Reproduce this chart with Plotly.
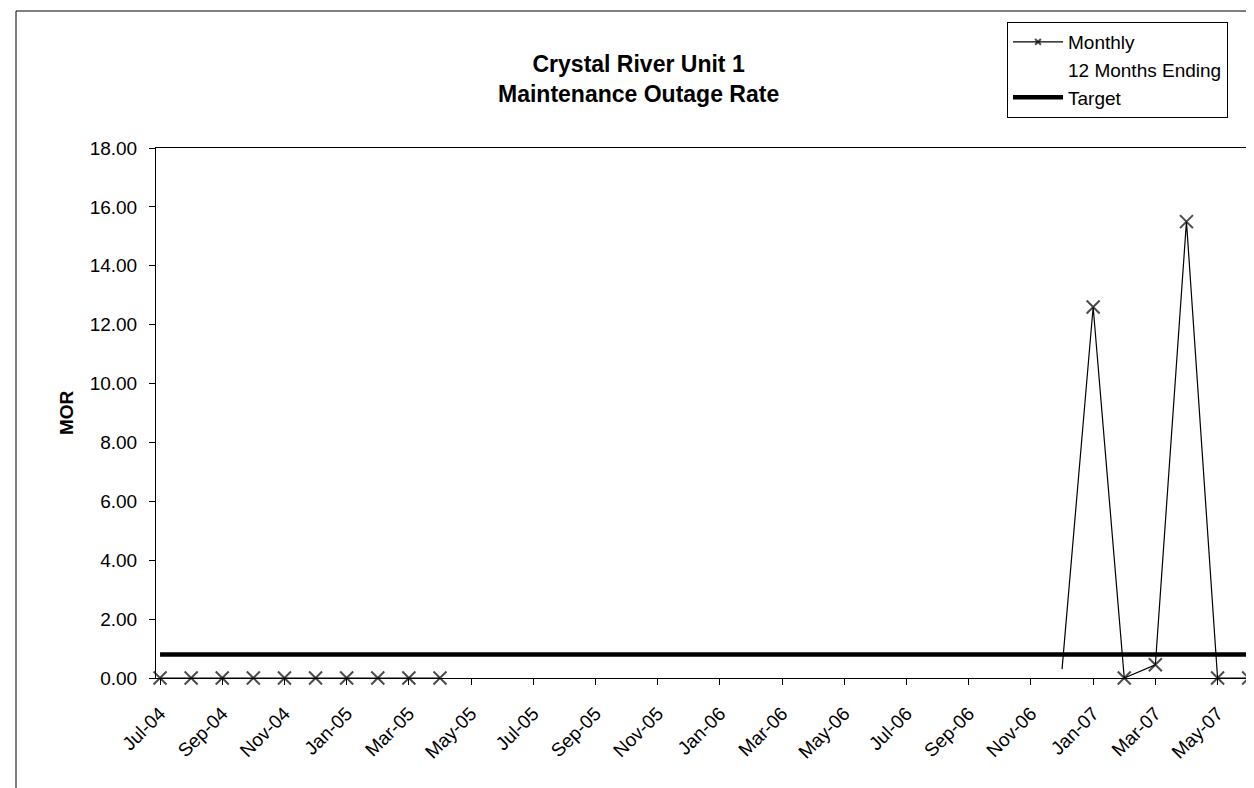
import plotly.graph_objects as go

months = ["Jul-04","Aug-04","Sep-04","Oct-04","Nov-04","Dec-04",
          "Jan-05","Feb-05","Mar-05","Apr-05","May-05","Jun-05",
          "Jul-05","Aug-05","Sep-05","Oct-05","Nov-05","Dec-05",
          "Jan-06","Feb-06","Mar-06","Apr-06","May-06","Jun-06",
          "Jul-06","Aug-06","Sep-06","Oct-06","Nov-06","Dec-06",
          "Jan-07","Feb-07","Mar-07","Apr-07","May-07","Jun-07"]

monthly = [0.0, 0.0, 0.0, 0.0, 0.0, 0.0, 0.0, 0.0, 0.0, 0.0,
           None, None, None, None, None, None, None, None, None, None,
           None, None, None, None, None, None, None, None, None,
           0.3, 12.6, 0.0, 0.45, 15.5, 0.0, 0.0]
monthly_marker_shown = [1]*10 + [0]*19 + [0] + [1]*6

twelve_month = [None]*36

target = [0.80]*36

tick_labels = months[::2]

W, H = 1254, 788
L, R, T, B = 148, 4, 140, 118
pw, ph = W - L - R, H - T - B

def px2paper_x(px):
    return (px - L) / pw

def px2paper_y(py):
    return (H - B - py) / ph

font_family = "Liberation Sans, Arial, sans-serif"

fig = go.Figure()

fig.add_trace(go.Scatter(
    x=months, y=monthly, name="Monthly", mode="lines+markers",
    line=dict(color="black", width=1.2),
    marker=dict(symbol="x-thin", size=[13 if s else 0 for s in monthly_marker_shown],
                line=dict(color="black", width=2), color="black"),
    connectgaps=False, cliponaxis=False,
))

fig.add_trace(go.Scatter(
    x=months, y=twelve_month, name="12 Months Ending", mode="lines",
    line=dict(color="rgba(0,0,0,0)", width=1),
))

fig.add_trace(go.Scatter(
    x=months, y=target, name="Target", mode="lines",
    line=dict(color="black", width=4.5), cliponaxis=False,
))

# outer chart border
fig.add_shape(type="rect", xref="paper", yref="paper",
              x0=px2paper_x(8), x1=px2paper_x(1252),
              y0=px2paper_y(786), y1=px2paper_y(3),
              line=dict(color="black", width=1), layer="below")

fig.add_annotation(
    text="<b>Crystal River Unit 1<br>Maintenance Outage Rate</b>",
    xref="paper", yref="paper", x=px2paper_x(630), y=px2paper_y(71),
    xanchor="center", yanchor="middle", showarrow=False,
    font=dict(family=font_family, size=23, color="black"),
)

fig.add_annotation(
    text="<b>MOR</b>", textangle=-90,
    xref="paper", yref="paper", x=px2paper_x(58), y=px2paper_y(405),
    xanchor="center", yanchor="middle", showarrow=False,
    font=dict(family=font_family, size=19, color="black"),
)

fig.update_layout(
    width=W, height=H,
    margin=dict(l=L, r=R, t=T, b=B, pad=0),
    paper_bgcolor="white", plot_bgcolor="white",
    font=dict(family=font_family, size=18, color="black"),
    showlegend=True,
    legend=dict(
        x=px2paper_x(999), y=px2paper_y(14), xanchor="left", yanchor="top",
        bordercolor="black", borderwidth=1, bgcolor="white",
        font=dict(family=font_family, size=19, color="black"),
        itemwidth=50, tracegroupgap=0,
    ),
    xaxis=dict(
        type="category", categoryorder="array", categoryarray=months,
        range=[-0.13, 35.3],
        tickmode="array", tickvals=tick_labels, ticktext=tick_labels,
        tickangle=-45, ticks="outside", ticklen=6, tickcolor="black",
        showline=True, linecolor="black", linewidth=1, mirror=True,
        showgrid=False, zeroline=False, ticklabelstandoff=10,
        tickfont=dict(family=font_family, size=19, color="black"),
    ),
    yaxis=dict(
        range=[0, 18], tickmode="linear", tick0=0, dtick=2,
        tickformat=".2f", ticks="outside", ticklen=6, tickcolor="black",
        showline=True, linecolor="black", linewidth=1, mirror=True,
        showgrid=False, zeroline=False, ticklabelstandoff=8,
        tickfont=dict(family=font_family, size=19, color="black"),
    ),
)

fig.write_html("out.html")
